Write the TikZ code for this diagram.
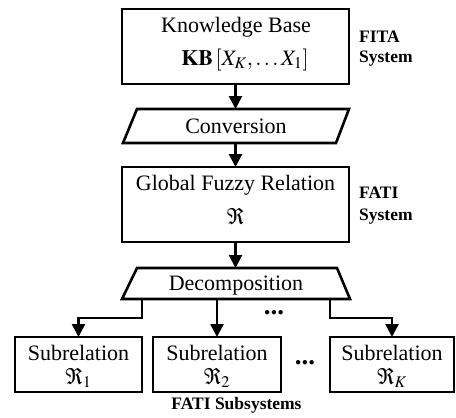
\documentclass[tikz,border=0pt]{standalone}
\usepackage{mathptmx}
\usepackage[no-math]{fontspec}
\setmainfont{Liberation Serif}
\usetikzlibrary{arrows.meta,calc}

\begin{document}
\begin{tikzpicture}[x=1pt,y=-1pt,
  lw/.style={line width=2.6pt},
  box/.style={draw,lw,rectangle,inner sep=0pt,outer sep=0pt},
  frame/.style={rectangle,inner sep=0pt,outer sep=0pt},
  txt/.style={font=\fontsize{22}{26}\selectfont,inner sep=0pt,anchor=base},
  subtxt/.style={font=\fontsize{22}{24}\selectfont,inner sep=0pt,anchor=base,align=center},
  lab/.style={font=\fontsize{17.5}{20}\selectfont\bfseries,inner sep=0pt,anchor=base west},
  dots/.style={font=\fontsize{27}{30}\selectfont\bfseries,inner sep=0pt},
  arr/.style={lw,-{Triangle[width=13pt,length=13pt]}}
]
\useasboundingbox (0,0) rectangle (456,418);

% knowledge base
\node[box,minimum width=227pt,minimum height=75pt] (kb) at (235.5,46.5) {};
\node[txt] (kbt) at (236,32) {Knowledge Base};
\node[txt] (kbf) at (245,65) {$\mathbf{KB}\,[X_K,\mathinner{\ldotp\ldotp\ldotp}X_1]$};

% conversion (parallelogram)
\node[frame,minimum width=226pt,minimum height=34pt] (conv) at (236,126) {};
\draw[lw] ($(conv.north west)+(14,0)$) -- (conv.north east)
  -- ($(conv.south east)+(-13,0)$) -- (conv.south west) -- cycle;
\node[txt] (convt) at (236,133) {Conversion};

% global fuzzy relation
\node[box,minimum width=227pt,minimum height=75pt] (glob) at (235.5,204.5) {};
\node[txt] (globt) at (235.5,190) {Global Fuzzy Relation};
\node[txt] (globr) at (235.5,224) {$\Re$};

% decomposition (trapezium)
\node[frame,minimum width=228pt,minimum height=31pt] (dec) at (236,283.5) {};
\draw[lw] ($(dec.north west)+(15,0)$) -- ($(dec.north east)+(-13,0)$)
  -- (dec.south east) -- (dec.south west) -- cycle;
\node[txt] (dect) at (236,290) {Decomposition};

% subrelations (base anchor sits on the second line)
\node[box,minimum width=127pt,minimum height=55pt] (s1) at (78.5,364.5) {};
\node[box,minimum width=128pt,minimum height=55pt] (s2) at (217,364.5) {};
\node[box,minimum width=124pt,minimum height=55pt] (s3) at (392,364.5) {};
\node[subtxt] (s1t) at (78.5,384) {Subrelation\\$\Re_1$};
\node[subtxt] (s2t) at (217,384) {Subrelation\\$\Re_2$};
\node[subtxt] (s3t) at (392,384) {Subrelation\\$\Re_K$};

\node[dots] (d1) at (274,313) {...};
\node[dots] (d2) at (305,363) {...};

% side labels
\node[lab] (fita) at (359,42) {FITA};
\node[lab] (fitas) at (359,62) {System};
\node[lab] (fati) at (359,198) {FATI};
\node[lab] (fatis) at (359,220) {System};
\node[lab,anchor=base] (subs) at (236.5,409) {FATI Subsystems};

% connectors
\coordinate (bend) at (0,318);
\draw[arr] (kb.south) -- (kb.south |- conv.north);
\draw[arr] (conv.south -| glob.north) -- (glob.north);
\draw[arr] (glob.south) -- (glob.south |- dec.north);
\draw[arr] (dec.south -| s1.east) -- (s1.east |- bend) -- (s1.north |- bend) -- (s1.north);
\draw[arr] (dec.south -| s2.north) -- (s2.north);
\draw[arr] (dec.south -| s3.west) -- (s3.west |- bend) -- (s3.north |- bend) -- (s3.north);
\end{tikzpicture}
\end{document}
